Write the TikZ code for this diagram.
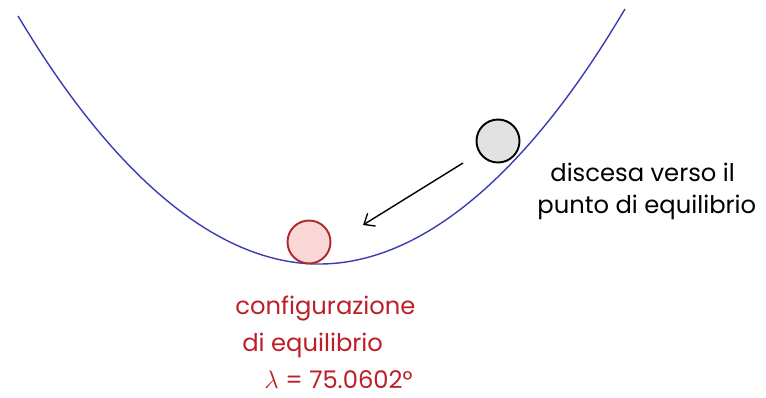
\documentclass[tikz,border=0pt]{standalone}
\usepackage{fontspec}
\setmainfont{Poppins}
\usetikzlibrary{arrows.meta}
\definecolor{curveblue}{RGB}{60,60,180}
\definecolor{eqred}{RGB}{190,30,40}
\definecolor{ballred}{RGB}{175,40,45}
\definecolor{ballpink}{RGB}{250,215,215}
\definecolor{ballgray}{RGB}{226,226,226}
\tikzstyle{ball}=[shape=circle, minimum size=0.86cm, inner sep=0, line width=1.1pt]
\tikzstyle{txt}=[anchor=west, inner sep=0, font=\fontsize{13.8}{16}\selectfont]

\begin{document}
\begin{tikzpicture}[x=0.02cm, y=-0.02cm]
\useasboundingbox (0,0) rectangle (766,397);
\coordinate (l) at (18,16);
\coordinate (v) at (319,264);
\coordinate (r) at (625,9);
\draw[curveblue, line width=0.8pt] (l) parabola bend (v) (r);
\draw (309,242) node[ball, draw=ballred, fill=ballpink](b1) {};
\draw (498,141) node[ball, draw=black, fill=ballgray](b2) {};
\coordinate (a1) at (463,163);
\coordinate (a2) at (363,225);
\draw[line width=0.8pt, -{Straight Barb[length=1.8mm, width=3mm]}] (a1)--(a2);
\draw (550,172) node[txt](t1) {discesa verso il};
\draw (537,207) node[txt](t2) {punto di equilibrio};
\draw (235,308) node[txt, eqred](t3) {configurazione};
\draw (242,345) node[txt, eqred](t4) {di equilibrio};
\draw (264,380) node[txt, eqred](t5) {$\lambda$ = 75.0602°};
\end{tikzpicture}
\end{document}
